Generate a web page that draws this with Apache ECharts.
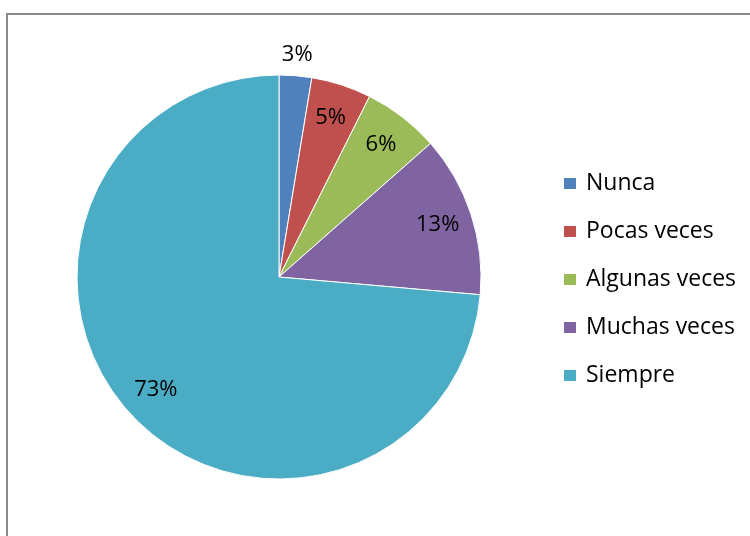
<!DOCTYPE html>
<html>
<head>
<meta charset="utf-8">
<script src="https://cdn.jsdelivr.net/npm/echarts@6/dist/echarts.min.js"></script>
<style>
  html, body { margin: 0; padding: 0; background: #fff; }
  #main { width: 750px; height: 536px; }
</style>
</head>
<body>
<div id="main"></div>
<script>
var categorias = ['Nunca', 'Pocas veces', 'Algunas veces', 'Muchas veces', 'Siempre'];
var valores = [2.6, 4.8, 6.1, 12.9, 73.6];
// textos de las etiquetas tal como aparecen
var etiquetas = ['3%', '5%', '6%', '13%', '73%'];
var colores = ['#4F81BD', '#C0504D', '#9BBB59', '#8064A2', '#4BACC6'];
// etiqueta que va fuera del pastel
var etiquetaFuera = [true, false, false, false, false];

var fuente = 'Open Sans';
var centro = [279, 277];

var myChart = echarts.init(document.getElementById('main'));

var datosPie = categorias.map(function (n, i) {
    return { name: n, value: valores[i], itemStyle: { color: colores[i] } };
});
// series transparentes solo para colocar las etiquetas
function datosEtiqueta(fuera) {
    return categorias.map(function (n, i) {
        return { name: n, value: valores[i], label: { show: etiquetaFuera[i] === fuera } };
    });
}
var estiloEtiqueta = {
    position: 'inside',
    formatter: function (p) { return etiquetas[p.dataIndex]; },
    color: '#000',
    fontFamily: fuente,
    fontSize: 22
};

option = {
    animation: false,
    backgroundColor: '#fff',
    graphic: [{
        type: 'rect',
        shape: { x: 7, y: 14, width: 800, height: 600 },
        style: { fill: 'none', stroke: '#8a8a8a', lineWidth: 2 },
        silent: true
    }],
    legend: {
        orient: 'vertical',
        left: 557,
        top: 167,
        itemWidth: 14,
        itemHeight: 13,
        itemGap: 25,
        icon: 'rect',
        data: categorias,
        selectedMode: false,
        textStyle: { color: '#000', fontFamily: fuente, fontSize: 23, lineHeight: 23, padding: [0, 0, 0, 4] }
    },
    series: [
        {
            type: 'pie',
            center: centro,
            radius: [0, 202],
            startAngle: 90,
            clockwise: true,
            silent: true,
            itemStyle: { borderColor: '#fff', borderWidth: 1 },
            label: { show: false },
            labelLine: { show: false },
            data: datosPie
        },
        {
            type: 'pie',
            center: centro,
            radius: [124, 204],
            startAngle: 90,
            silent: true,
            itemStyle: { color: 'transparent' },
            label: estiloEtiqueta,
            labelLine: { show: false },
            data: datosEtiqueta(false)
        },
        {
            type: 'pie',
            center: centro,
            radius: [204, 236],
            startAngle: 90,
            silent: true,
            itemStyle: { color: 'transparent' },
            label: estiloEtiqueta,
            labelLine: { show: false },
            data: datosEtiqueta(true)
        }
    ]
};

myChart.setOption(option);
</script>
</body>
</html>
